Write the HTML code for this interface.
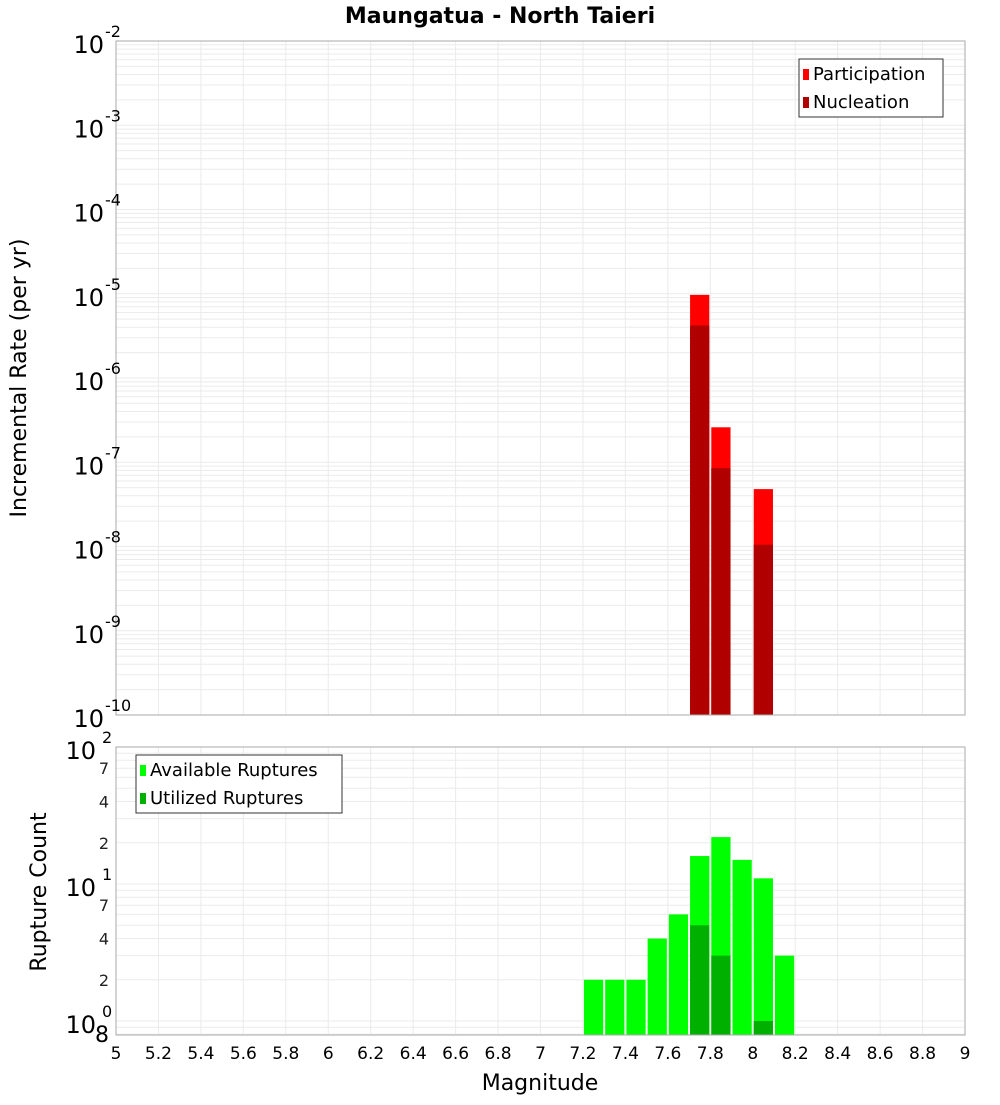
<!DOCTYPE html>
<html><head><meta charset="utf-8"><style>
body{margin:0;background:#fff;}
svg{font-family:"DejaVu Sans","Liberation Sans",sans-serif;}
</style></head><body>
<svg id="chart" width="1000" height="1100" xmlns="http://www.w3.org/2000/svg"></svg>
<script>
const magBins = [7.75, 7.85, 8.05];
const participation = [9.7e-6, 2.6e-7, 4.8e-8];
const nucleation = [4.2e-6, 8.5e-8, 1.05e-8];
const countBins = [7.25, 7.35, 7.45, 7.55, 7.65, 7.75, 7.85, 7.95, 8.05, 8.15];
const available = [2, 2, 2, 4, 6, 16, 22, 15, 11, 3];
const utilizedBins = [7.75, 7.85, 8.05];
const utilized = [5, 3, 1];
const xTicks = [5,5.2,5.4,5.6,5.8,6,6.2,6.4,6.6,6.8,7,7.2,7.4,7.6,7.8,8,8.2,8.4,8.6,8.8,9];
const topExps = [-2,-3,-4,-5,-6,-7,-8,-9,-10];
const botMinorLabels = [2,4,7];

const NS='http://www.w3.org/2000/svg';
const svg=document.getElementById('chart');
function el(tag,attrs,parent){const e=document.createElementNS(NS,tag);for(const k in attrs)e.setAttribute(k,attrs[k]);(parent||svg).appendChild(e);return e;}
const X0=116,X1=965;
const xs=m=>X0+(m-5)/4*(X1-X0);
const T0=41,T1=715;
const yTop=v=>T0+(-2-Math.log10(v))*(T1-T0)/8;
const B0=747,B1=1035,BD=137;
const yBot=v=>B0+(2-Math.log10(v))*BD;

// title
let t=el('text',{x:500,y:23,'text-anchor':'middle','font-size':22,'font-weight':'bold'});
t.textContent='Maungatua - North Taieri';



// top grid
let g=el('g',{stroke:'#ebebeb','stroke-width':1});


for(let e=-10;e<-2;e++)for(let k=1;k<10;k++){const y=yTop(k*Math.pow(10,e));el('line',{x1:X0,x2:X1,y1:y,y2:y},g);}
for(const m of xTicks){el('line',{x1:xs(m),x2:xs(m),y1:T0,y2:T1},g);}
// bottom grid
let g2=el('g',{stroke:'#ebebeb','stroke-width':1});


for(let e=-1;e<2;e++)for(let k=1;k<10;k++){const v=k*Math.pow(10,e);const y=yBot(v);if(y>=B0&&y<=B1)el('line',{x1:X0,x2:X1,y1:y,y2:y},g2);}
for(const m of xTicks){el('line',{x1:xs(m),x2:xs(m),y1:B0,y2:B1},g2);}

// top bars
magBins.forEach((m,i)=>{
 let r=el('rect',{x:xs(m-0.05)+1,y:yTop(participation[i]),width:xs(m+0.05)-xs(m-0.05)-2,height:T1-yTop(participation[i]),fill:'#ff0000'});
 
 
 let r2=el('rect',{x:xs(m-0.05)+1,y:yTop(nucleation[i]),width:xs(m+0.05)-xs(m-0.05)-2,height:T1-yTop(nucleation[i]),fill:'#b00000'});
 
 
});
// bottom bars
countBins.forEach((m,i)=>{
 let r=el('rect',{x:xs(m-0.05)+1,y:yBot(available[i]),width:xs(m+0.05)-xs(m-0.05)-2,height:B1-yBot(available[i]),fill:'#00ff00'});
 
 
});
utilizedBins.forEach((m,i)=>{
 let r=el('rect',{x:xs(m-0.05)+1,y:yBot(utilized[i]),width:xs(m+0.05)-xs(m-0.05)-2,height:B1-yBot(utilized[i]),fill:'#00b000'});
 
 
});

// frames
let f1=el('rect',{x:X0,y:T0,width:X1-X0,height:T1-T0,fill:'none',stroke:'#aaa'});


let f2=el('rect',{x:X0,y:B0,width:X1-X0,height:B1-B0,fill:'none',stroke:'#aaa'});



// top y labels
topExps.forEach(e=>{
 const y=yTop(Math.pow(10,e));
 let tx=el('text',{x:104,y:y+12,'text-anchor':'end','font-size':24});
 tx.textContent='10';
 
 
 let sp=el('text',{x:105,y:y-4,'font-size':16});
 sp.textContent=String(e);
 
 
});
// bottom y labels
[2,1,0].forEach(e=>{
 const y=yBot(Math.pow(10,e));
 let tx=el('text',{x:96,y:y+12,'text-anchor':'end','font-size':24});
 tx.textContent='10';
 
 
 let sp=el('text',{x:102,y:y-4,'font-size':16});
 sp.textContent=String(e);
 
 
});
[1,0].forEach(e=>{
 botMinorLabels.forEach(k=>{
  const y=yBot(k*Math.pow(10,e));
  let tx=el('text',{x:109,y:y+6,'text-anchor':'end','font-size':16,fill:'#222'});
  tx.textContent=String(k);
  
  
 });
});
let e8=el('text',{x:109,y:1042,'text-anchor':'end','font-size':22});
e8.textContent='8';



// x labels
xTicks.forEach(m=>{
 let tx=el('text',{x:xs(m),y:1059,'text-anchor':'middle','font-size':17});
 tx.textContent=String(m);
 
 
});
let xt=el('text',{x:540,y:1090,'text-anchor':'middle','font-size':22});
xt.textContent='Magnitude';


let yt=el('text',{x:0,y:0,'text-anchor':'middle','font-size':22,transform:'translate(26,378) rotate(-90)'});
yt.textContent='Incremental Rate (per yr)';


let yt2=el('text',{x:0,y:0,'text-anchor':'middle','font-size':22,transform:'translate(46,892) rotate(-90)'});
yt2.textContent='Rupture Count';



// legends
function legend(x,y,w,items,name){
 let lg=el('g',{});
 
 
 el('rect',{x:x,y:y,width:w,height:58,fill:'#fff',stroke:'#333'},lg);
 items.forEach((it,i)=>{
  el('rect',{x:x+4,y:y+10+i*28,width:6,height:11,fill:it[1]},lg);
  let tx=el('text',{x:x+14,y:y+21+i*28,'font-size':18},lg);
  tx.textContent=it[0];
  
  
 });
}
legend(799,59,144,[['Participation','#ff0000'],['Nucleation','#b00000']],'top-legend');
legend(136,755,206,[['Available Ruptures','#00ff00'],['Utilized Ruptures','#00b000']],'bottom-legend');
</script>
</body></html>
